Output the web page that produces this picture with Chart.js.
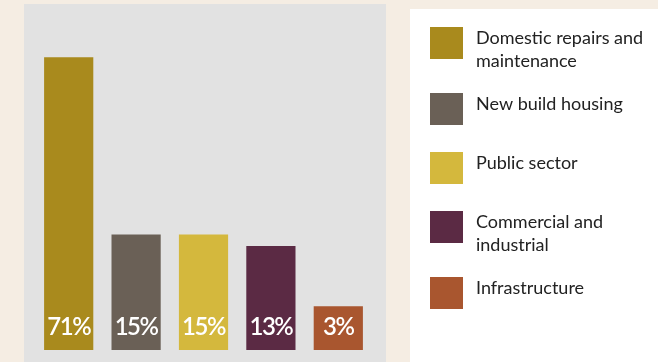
<!DOCTYPE html>
<html>
<head>
<meta charset="utf-8">
<script src="https://cdn.jsdelivr.net/npm/chart.js@4.4.1/dist/chart.umd.min.js"></script>
<style>
  html, body { margin: 0; padding: 0; background: #f5ede3; }
  #wrap { position: relative; width: 658px; height: 362px; }
</style>
</head>
<body>
<div id="wrap"><canvas id="share-chart" width="658" height="362"></canvas></div>
<script>
// categories (legend lines), drawn bar heights and the share labels printed in the bars
const categories = [
  ['Domestic repairs and', 'maintenance'],
  ['New build housing'],
  ['Public sector'],
  ['Commercial and', 'industrial'],
  ['Infrastructure'],
];
const barHeights = [71, 28, 28, 25.2, 10.6];
const shareLabels = ['71%', '15%', '15%', '13%', '3%'];
const barColors = ['#a98a1d', '#6a6056', '#d4b83d', '#5b2a44', '#a9562f'];

const panels = {
  id: 'panels',
  beforeDraw(chart) {
    const { ctx, chartArea: a } = chart;
    ctx.save();
    ctx.fillStyle = '#e2e2e2';
    ctx.fillRect(a.left - 11, 4, a.right - a.left + 25, chart.height - 4);
    ctx.fillStyle = '#ffffff';
    ctx.fillRect(410, 9, chart.width - 410, chart.height - 9);
    ctx.restore();
  },
};

const barText = {
  id: 'barText',
  afterDatasetsDraw(chart) {
    const { ctx } = chart;
    const meta = chart.getDatasetMeta(0);
    ctx.save();
    ctx.fillStyle = '#ffffff';
    ctx.font = '600 24px Lato';
    ctx.letterSpacing = '-1.5px';
    ctx.textAlign = 'center';
    ctx.textBaseline = 'middle';
    meta.data.forEach((bar, i) => ctx.fillText(shareLabels[i], bar.x, chart.chartArea.bottom - 23));
    ctx.restore();
  },
};

const sideLegend = {
  id: 'sideLegend',
  afterDraw(chart) {
    const { ctx } = chart;
    ctx.save();
    ctx.font = '18px Lato';
    ctx.textBaseline = 'middle';
    let y = 27;
    categories.forEach((lines, i) => {
      ctx.fillStyle = barColors[i];
      ctx.fillRect(430, y, 33, 32);
      ctx.fillStyle = '#222222';
      lines.forEach((ln, j) => ctx.fillText(ln, 476, y + 11 + j * 23));
      y += 59 + (lines.length - 1) * 7;
    });
    ctx.restore();
  },
};

new Chart(document.getElementById('share-chart'), {
  type: 'bar',
  data: {
    labels: categories.map(c => c.join(' ')),
    datasets: [{ data: barHeights, backgroundColor: barColors, borderWidth: 0, barPercentage: 0.73, categoryPercentage: 1 }],
  },
  options: {
    responsive: false,
    animation: false,
    layout: { padding: { left: 35, right: 286, top: 20, bottom: 12 } },
    scales: {
      x: { display: false, grid: { display: false } },
      y: { display: false, min: 0, max: 80, grid: { display: false } },
    },
    plugins: { legend: { display: false }, tooltip: { enabled: false } },
  },
  plugins: [panels, barText, sideLegend],
});
</script>
</body>
</html>
